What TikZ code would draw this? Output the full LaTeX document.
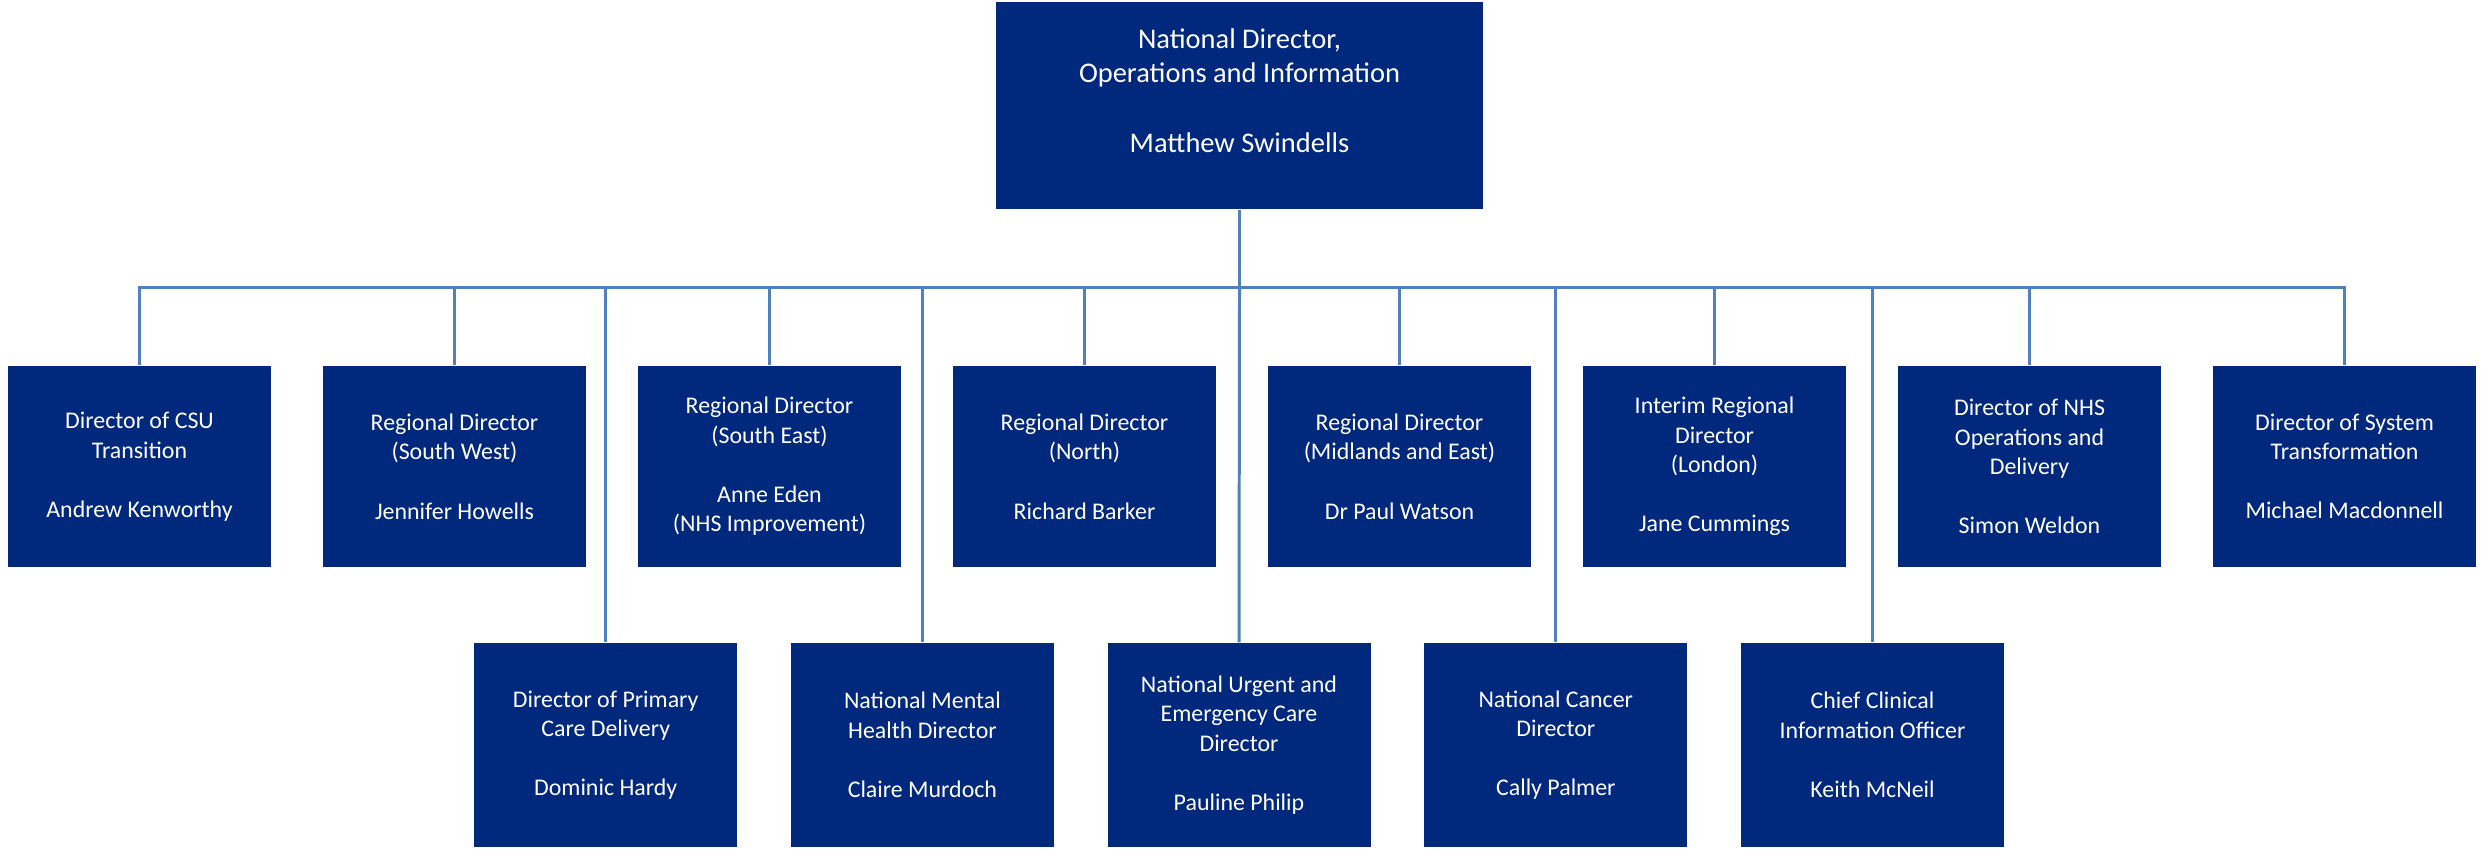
\documentclass[tikz,border=0pt]{standalone}
\usepackage{fontspec}
\setmainfont{Carlito}
\usepackage{tikz}
\usetikzlibrary{positioning}
\definecolor{navy}{RGB}{0,40,125}
\definecolor{linkblue}{RGB}{79,129,189}

\begin{document}
\begin{tikzpicture}[
  box/.style={fill=navy, text=white, minimum width=2.63cm, minimum height=2.01cm,
    align=center, inner sep=0pt, font=\fontsize{6.8}{8.4}\selectfont},
  link/.style={draw=linkblue, line width=0.85pt}]

\useasboundingbox (0,0) rectangle (24.83,-8.51);

\coordinate (bus) at (12.395,-2.87);

\node[box, minimum width=4.87cm, minimum height=2.07cm,
  label={[align=center, text=white, font=\fontsize{8.1}{9.9}\selectfont, yshift=0.15cm]center:{National Director,\\Operations and Information\\[9.9pt]Matthew Swindells}}]
  (top) at (12.395,-1.055) {};

\node[box] (csu) at (1.395,-4.665) {Director of CSU\\Transition\\[8.4pt]Andrew Kenworthy};
\node[box] (sw) at (4.545,-4.665) {Regional Director\\(South West)\\[8.4pt]Jennifer Howells};
\node[box] (se) at (7.695,-4.665) {Regional Director\\(South East)\\[8.4pt]Anne Eden\\(NHS Improvement)};
\node[box] (north) at (10.845,-4.665) {Regional Director\\(North)\\[8.4pt]Richard Barker};
\node[box] (mide) at (13.995,-4.665) {Regional Director\\(Midlands and East)\\[8.4pt]Dr Paul Watson};
\node[box] (lon) at (17.145,-4.665) {Interim Regional\\Director\\(London)\\[8.4pt]Jane Cummings};
\node[box] (ops) at (20.295,-4.665) {Director of NHS\\Operations and\\Delivery\\[8.4pt]Simon Weldon};
\node[box] (syst) at (23.445,-4.665) {Director of System\\Transformation\\[8.4pt]Michael Macdonnell};

\node[box, minimum height=2.04cm] (pcare) at (6.057,-7.45) {Director of Primary\\Care Delivery\\[8.4pt]Dominic Hardy};
\node[box, minimum height=2.04cm] (mental) at (9.224,-7.45) {National Mental\\Health Director\\[8.4pt]Claire Murdoch};
\node[box, minimum height=2.04cm] (urgent) at (12.39,-7.45) {National Urgent and\\Emergency Care\\Director\\[8.4pt]Pauline Philip};
\node[box, minimum height=2.04cm] (cancer) at (15.558,-7.45) {National Cancer\\Director\\[8.4pt]Cally Palmer};
\node[box, minimum height=2.04cm] (ccio) at (18.725,-7.45) {Chief Clinical\\Information Officer\\[8.4pt]Keith McNeil};

\draw[link] (top.south) -- (bus);
\draw[link] (bus) -| (csu.north);
\draw[link] (bus) -| (sw.north);
\draw[link] (bus) -| (se.north);
\draw[link] (bus) -| (north.north);
\draw[link] (bus) -| (mide.north);
\draw[link] (bus) -| (lon.north);
\draw[link] (bus) -| (ops.north);
\draw[link] (bus) -| (syst.north);

\draw[link] (bus) -| (pcare.north);
\draw[link] (bus) -| (mental.north);
\draw[link] (bus) -- (urgent.north);
\draw[link] (bus) -| (cancer.north);
\draw[link] (bus) -| (ccio.north);

\end{tikzpicture}
\end{document}
